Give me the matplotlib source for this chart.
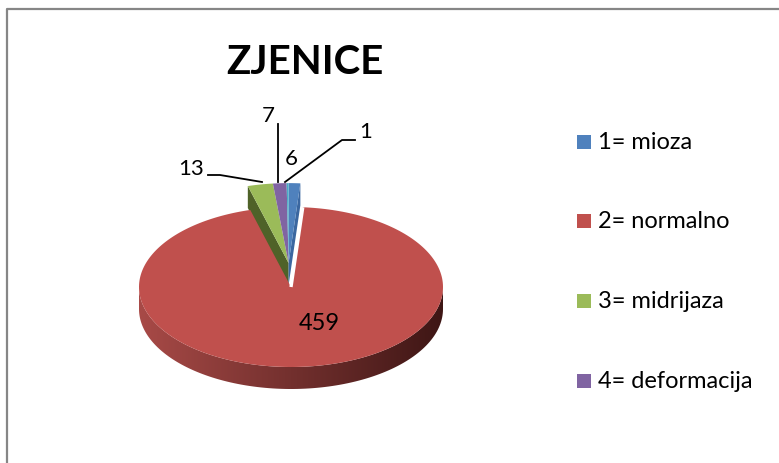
import numpy as np
import matplotlib
matplotlib.use("Agg")
import matplotlib.pyplot as plt
from matplotlib.patches import Polygon, Rectangle
from matplotlib.colors import to_rgb

# data
categories = ["1= mioza", "2= normalno", "3= midrijaza", "4= deformacija", ""]
values = [6, 459, 13, 7, 1]
colors = ["#4F81BD", "#C0504D", "#9BBB59", "#8064A2", "#4BACC6"]
title = "ZJENICE"

FONT = ["Lato", "DejaVu Sans"]

fig = plt.figure(figsize=(7.79, 4.64), dpi=100)
ax = fig.add_axes([0, 0, 1, 1])
ax.axis("off")

# chart border
ax.plot([7, 7, 779], [464, 10, 10], color="#868686", lw=1.6, solid_capstyle="butt")

cx, cy = 291, 288
rx, ry = 152, 80
depth = 22
explode = 0.3


def pt(x0, y0, t, dy=0):
    r = np.radians(t)
    return (x0 + rx * np.cos(r), y0 - ry * np.sin(r) + dy)


def top_poly(x0, y0, t1, t2, n=60):
    ts = np.linspace(t1, t2, n)
    return [(x0, y0)] + [pt(x0, y0, t) for t in ts]


# angles: excel style, start at 12 o'clock, clockwise
total = float(sum(values))
cum = np.cumsum([0] + values) / total * 360
t_start = 90 - cum[:-1]
t_end = 90 - cum[1:]

# small slices are pulled out together toward the back
small = [0, 2, 3, 4]
mid = 90 + (360 - cum[2]) / 2.0 - (cum[1] - cum[0]) / 2.0
sx = cx + explode * rx * np.cos(np.radians(mid)) + 2
sy = cy - explode * ry * np.sin(np.radians(mid))

# cut faces of the pulled-out group
g_edge = t_start[2] + 360
b_edge = t_end[0]
face_g = [(sx, sy), pt(sx, sy, g_edge), pt(sx, sy, g_edge, depth), (sx, sy + depth)]
ax.add_patch(Polygon(face_g, closed=True, facecolor="#4F6228", edgecolor="none"))
face_b = [(sx, sy), pt(sx, sy, b_edge), pt(sx, sy, b_edge, depth), (sx, sy + depth)]
ax.add_patch(Polygon(face_b, closed=True, facecolor="#3B67A0", edgecolor="none"))

for i in small:
    a, b = t_start[i], t_end[i]
    if i != 0:
        a, b = a + 360, b + 360
    ax.add_patch(Polygon(top_poly(sx, sy, a, b), closed=True,
                         facecolor=colors[i], edgecolor="none"))

# front side of the big slice, shaded left to right
ts = np.linspace(180, 360, 120)
upper = [pt(cx, cy, t) for t in ts]
lower = [pt(cx, cy, t, depth) for t in ts[::-1]]
side = Polygon(upper + lower, closed=True, facecolor="none", edgecolor="none")
ax.add_patch(side)
c1 = np.array(to_rgb("#A84A47"))
c2 = np.array(to_rgb("#3E1615"))
f = np.linspace(0, 1, 256)[None, :, None]
grad = c1 * (1 - f) + c2 * f
im = ax.imshow(grad, extent=[cx - rx, cx + rx, cy + ry + depth + 2, cy - 2],
               aspect="auto", interpolation="bilinear", zorder=1)
im.set_clip_path(side)

# top of the big slice
ax.add_patch(Polygon(top_poly(cx, cy, t_start[1], t_end[1], 240), closed=True,
                     facecolor=colors[1], edgecolor="none", zorder=2))
# white gap on the right cut edge
p = pt(cx, cy, t_start[1])
ax.plot([cx, p[0]], [cy, p[1]], color="white", lw=2.4, zorder=2.1,
        solid_capstyle="butt")

# data labels
fs = 16
ax.text(cx + 28, cy + 36, str(values[1]), fontsize=17, family=FONT, ha="center", va="center", zorder=3)
ax.text(291, 159, str(values[0]), fontsize=fs, family=FONT, ha="center", va="center")
ax.text(268, 116, str(values[3]), fontsize=fs, family=FONT, ha="center", va="center")
ax.plot([278, 278], [125, 183], color="black", lw=1.3)
ax.text(366, 132, str(values[4]), fontsize=fs, family=FONT, ha="center", va="center")
ax.plot([355, 342, 285], [141, 141, 183], color="black", lw=1.3)
ax.text(191, 169, str(values[2]), fontsize=fs, family=FONT, ha="center", va="center")
ax.plot([208, 220, 262], [176, 176, 183], color="black", lw=1.3)

# title
ax.text(305, 62, title, fontsize=29, fontweight="bold", family=FONT, ha="center", va="center")

# legend
ly = [143, 222, 302, 382]
for i in range(4):
    ax.add_patch(Rectangle((577, ly[i] - 7), 14, 14, facecolor=colors[i], edgecolor="none"))
    ax.text(598, ly[i], categories[i], fontsize=17, family=FONT, ha="left", va="center")

ax.set_xlim(0, 779)
ax.set_ylim(464, 0)
fig.savefig("out.png", dpi=100)
